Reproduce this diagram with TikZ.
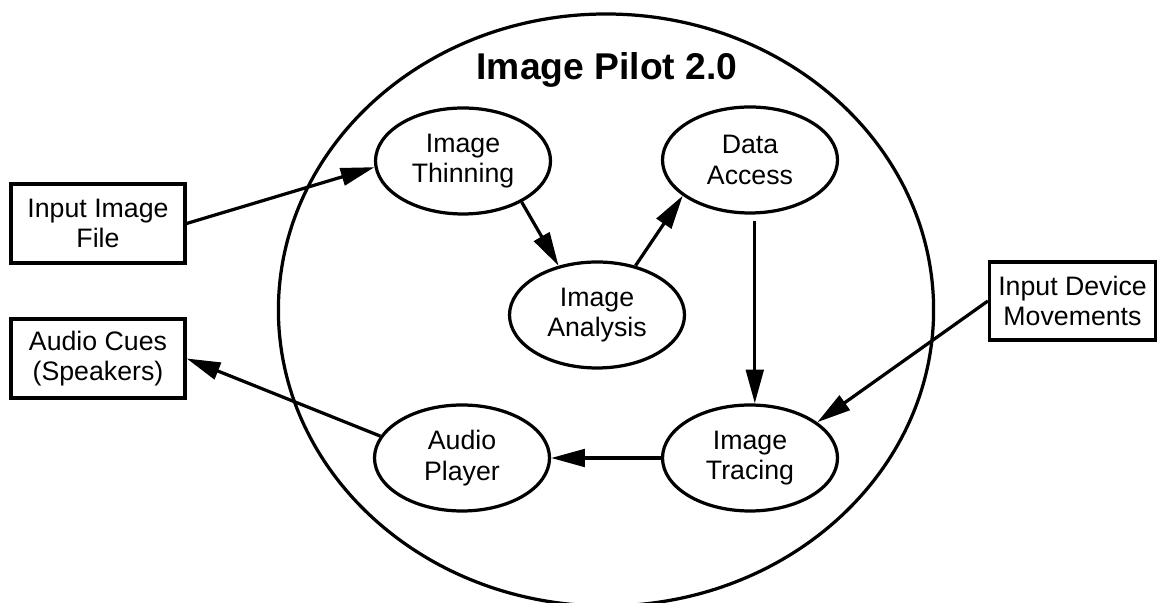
\documentclass[tikz,border=0pt]{standalone}
\usepackage{fontspec}
\setmainfont{Liberation Sans}
\usepackage{tikz}
\usetikzlibrary{
	positioning				% Allows relative placement
	, arrows.meta			% Allows Triangle arrow tips
	, shapes				% Allows ellipse nodes
}

\begin{document}
\begin{tikzpicture}
			\useasboundingbox (0, 0) rectangle (28.925, 15.075);
			\begin{scope}[
				line width=2.3pt,
				process/.style={draw=black, ellipse, minimum width=4.375cm, minimum height=2.65cm, inner sep=0, align=center, font=\fontsize{19}{21.8}\selectfont},
				extern/.style={draw=black, rectangle, minimum width=4.35cm, minimum height=1.975cm, inner sep=0, align=center, font=\fontsize{19}{21.8}\selectfont},
				flow/.style={-{Triangle[length=24pt, width=12.5pt]}}]

				%% System boundary
				\draw (15.15, 7.325) ellipse (8.19 and 7.4);
				\node (title) at (15.175, 13.325) {\fontsize{26.5}{30}\selectfont\bfseries Image Pilot 2.0};

				%% Processes
				\node[process] (thin) at (11.575, 11.05) {Image\\Thinning};
				\node[process] (data) at (18.75, 11.075) {Data\\Access};
				\node[process] (anal) at (14.925, 7.2) {Image\\Analysis};
				\node[process] (trace) at (18.75, 3.625) {Image\\Tracing};
				\node[process] (player) at (11.55, 3.625) {Audio\\Player};

				%% External entities
				\node[extern] (inimg) at (2.45, 9.4875) {Input Image\\File};
				\node[extern] (cues) at (2.45, 6.1125) {Audio Cues\\(Speakers)};
				\node[extern, minimum width=4.15cm, minimum height=1.95cm] (device) at (26.8125, 7.55) {Input Device\\Movements};

				% Data flows
				\draw[flow] (inimg.east) -- (thin.184);
				\draw[flow] (thin.-35) -- (anal.128);
				\draw[flow] (anal.52) -- (data.208);
				\draw[flow] ([xshift=0.12cm, yshift=-0.15cm]data.south) -- ([xshift=0.12cm]trace.north);
				\draw[flow] (device.west) -- (trace.28);
				\draw[flow] (trace.west) -- (player.east);
				\draw[flow] (player.165) -- (cues.east);
			\end{scope}
		\end{tikzpicture}
\end{document}
